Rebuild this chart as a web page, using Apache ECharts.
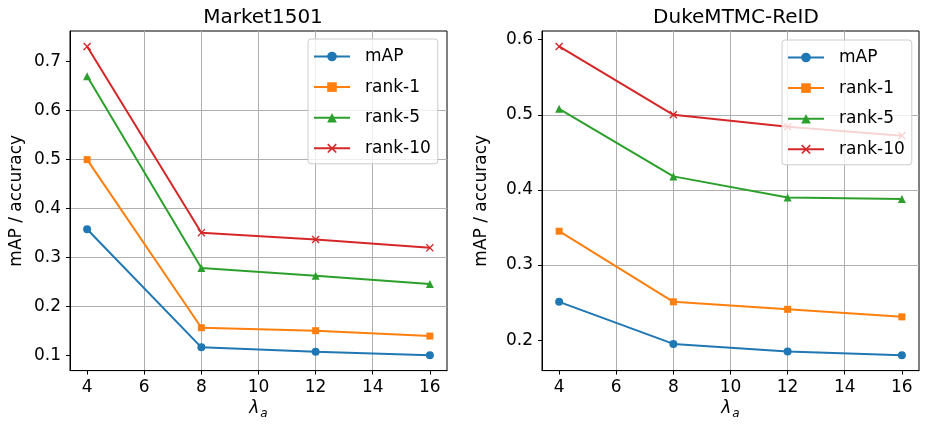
<!DOCTYPE html>
<html>
<head>
<meta charset="utf-8">
<script src="https://cdn.jsdelivr.net/npm/echarts@6/dist/echarts.min.js"></script>
<style>
  html, body { margin: 0; padding: 0; background: #fff; }
  #chart { width: 925px; height: 425px; }
</style>
</head>
<body>
<div id="chart"></div>
<script>
// x values (lambda_a)
const lambdas = [4, 8, 12, 16];

// Market1501
const marketMAP = [0.358, 0.117, 0.108, 0.101];
const marketRank1 = [0.500, 0.157, 0.151, 0.140];
const marketRank5 = [0.670, 0.279, 0.263, 0.246];
const marketRank10 = [0.731, 0.351, 0.337, 0.320];

// DukeMTMC-ReID
const dukeMAP = [0.251, 0.195, 0.185, 0.180];
const dukeRank1 = [0.345, 0.251, 0.241, 0.231];
const dukeRank5 = [0.508, 0.418, 0.390, 0.388];
const dukeRank10 = [0.591, 0.500, 0.484, 0.472];

// tick labels
const xTicks = [4, 6, 8, 10, 12, 14, 16];
const marketYTicks = [0.1, 0.2, 0.3, 0.4, 0.5, 0.6, 0.7];
const dukeYTicks = [0.2, 0.3, 0.4, 0.5, 0.6];

const seriesNames = ['mAP', 'rank-1', 'rank-5', 'rank-10'];
const colors = ['#1f77b4', '#ff7f0e', '#2ca02c', '#d62728'];
const crossPath = 'path://M0,1.2L1.2,0L5,3.8L8.8,0L10,1.2L6.2,5L10,8.8L8.8,10L5,6.2L1.2,10L0,8.8L3.8,5Z';
const symbols = ['circle', 'rect', 'triangle', crossPath];
const symbolSizes = [8, 7, 8, 8];

const FONT = 'DejaVu Sans';

// matplotlib 默认 5% 边距
function padMin(v) { return v.min - 0.05 * (v.max - v.min); }
function padMax(v) { return v.max + 0.05 * (v.max - v.min); }

function makeSeries(values, i, axisIdx) {
    return {
        type: 'line',
        name: seriesNames[i],
        xAxisIndex: axisIdx,
        yAxisIndex: axisIdx,
        data: lambdas.map((x, k) => [x, values[k]]),
        symbol: symbols[i],
        symbolSize: symbolSizes[i],
        showAllSymbol: true,
        color: colors[i],
        lineStyle: { width: 2, color: colors[i] },
        itemStyle: { color: colors[i] },
        emphasis: { disabled: true },
        animation: false
    };
}

function makeXAxis(gridIdx) {
    return {
        type: 'value',
        gridIndex: gridIdx,
        min: padMin,
        max: padMax,
        splitNumber: 6,
        name: '{l|λ}{s|a}',
        nameLocation: 'middle',
        nameGap: 27,
        nameTextStyle: {
            rich: {
                l: { fontFamily: FONT, fontStyle: 'italic', fontSize: 17, color: '#000', lineHeight: 22, verticalAlign: 'middle' },
                s: { fontFamily: FONT, fontStyle: 'italic', fontSize: 12, color: '#000', lineHeight: 22, verticalAlign: 'bottom', padding: [0, 0, 0, 1] }
            }
        },
        axisLine: { show: true, onZero: false, lineStyle: { color: '#000', width: 1 } },
        axisTick: { show: true, length: 4, lineStyle: { color: '#000' }, customValues: xTicks },
        axisLabel: { fontFamily: FONT, fontSize: 17, color: '#000', margin: 8, customValues: xTicks },
        splitLine: { show: true, showMinLine: false, showMaxLine: false, lineStyle: { color: '#b0b0b0', width: 1 } }
    };
}

function makeYAxis(gridIdx, ticks, gap) {
    return {
        type: 'value',
        gridIndex: gridIdx,
        min: padMin,
        max: padMax,
        splitNumber: 7,
        name: 'mAP / accuracy',
        nameLocation: 'middle',
        nameGap: gap,
        nameTextStyle: { fontFamily: FONT, fontSize: 17, color: '#000' },
        axisLine: { show: true, onZero: false, lineStyle: { color: '#000', width: 1 } },
        axisTick: { show: true, length: 4, lineStyle: { color: '#000' }, customValues: ticks },
        axisLabel: { fontFamily: FONT, fontSize: 17, color: '#000', margin: 9, customValues: ticks,
            formatter: v => v.toFixed(1) },
        splitLine: { show: true, showMinLine: false, showMaxLine: false, lineStyle: { color: '#b0b0b0', width: 1 } }
    };
}

function makeLegend(left, top) {
    return {
        left: left,
        top: top,
        orient: 'vertical',
        data: seriesNames,
        selectedMode: false,
        itemWidth: 36,
        itemHeight: 12,
        itemGap: 13.6,
        padding: [9, 7, 7, 5],
        backgroundColor: 'rgba(255,255,255,0.8)',
        borderColor: '#cccccc',
        borderWidth: 1,
        borderRadius: 3,
        textStyle: { fontFamily: FONT, fontSize: 17, color: '#000', padding: [0, 0, 0, 10] }
    };
}

const chart = echarts.init(document.getElementById('chart'), null, { renderer: 'canvas' });

chart.setOption({
    backgroundColor: '#fff',
    animation: false,
    title: [
        { text: 'Market1501', left: 258, top: 3, textAlign: 'center',
          textStyle: { fontFamily: FONT, fontSize: 20, fontWeight: 'normal', color: '#000' } },
        { text: 'DukeMTMC-ReID', left: 731, top: 3, textAlign: 'center',
          textStyle: { fontFamily: FONT, fontSize: 20, fontWeight: 'normal', color: '#000' } }
    ],
    legend: [makeLegend(308, 39), makeLegend(782, 40)],
    grid: [
        { left: 70, top: 31, width: 377, height: 341, show: true, borderColor: '#000', borderWidth: 1, backgroundColor: 'transparent' },
        { left: 542, top: 31, width: 377, height: 341, show: true, borderColor: '#000', borderWidth: 1, backgroundColor: 'transparent' }
    ],
    xAxis: [makeXAxis(0), makeXAxis(1)],
    yAxis: [makeYAxis(0, marketYTicks, 45), makeYAxis(1, dukeYTicks, 52)],
    series: [
        makeSeries(marketMAP, 0, 0),
        makeSeries(marketRank1, 1, 0),
        makeSeries(marketRank5, 2, 0),
        makeSeries(marketRank10, 3, 0),
        makeSeries(dukeMAP, 0, 1),
        makeSeries(dukeRank1, 1, 1),
        makeSeries(dukeRank5, 2, 1),
        makeSeries(dukeRank10, 3, 1)
    ]
});
</script>
</body>
</html>
